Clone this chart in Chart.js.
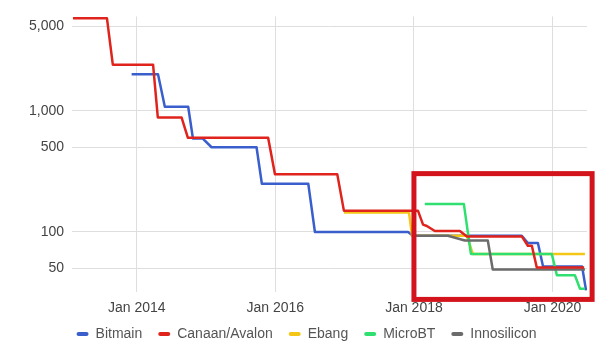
<!DOCTYPE html>
<html>
<head>
<meta charset="utf-8">
<script src="https://cdn.jsdelivr.net/npm/chart.js@4.4.1/dist/chart.umd.min.js"></script>
<style>
  html, body { margin: 0; padding: 0; background: #fff; }
  #wrap { width: 613px; height: 361px; }
</style>
</head>
<body>
<div id="wrap"><canvas id="chart"></canvas></div>
<script>
// Miner efficiency (J/TH) per manufacturer, step points
const bitmain = [
  ['2013-12-05', 2000], ['2014-04-23', 2000], ['2014-05-29', 1080], ['2014-09-29', 1080],
  ['2014-10-24', 590], ['2014-12-15', 590], ['2015-01-30', 500], ['2015-09-24', 500],
  ['2015-10-22', 250], ['2016-06-23', 250], ['2016-07-28', 100], ['2017-12-01', 100],
  ['2017-12-27', 93], ['2019-07-23', 93], ['2019-08-24', 81], ['2019-10-16', 81],
  ['2019-11-12', 52], ['2020-06-05', 52], ['2020-06-26', 33]
];
const canaan = [
  ['2013-01-30', 5800], ['2013-07-28', 5800], ['2013-08-28', 2400], ['2014-03-28', 2400],
  ['2014-04-22', 880], ['2014-08-25', 880], ['2014-09-27', 600], ['2015-11-24', 600],
  ['2015-12-30', 300], ['2016-11-23', 300], ['2016-12-28', 150], ['2018-01-22', 150],
  ['2018-02-18', 115], ['2018-03-10', 112], ['2018-04-21', 102], ['2018-08-31', 102],
  ['2018-10-07', 92], ['2019-07-23', 92], ['2019-08-24', 77], ['2019-09-14', 77],
  ['2019-10-10', 51], ['2020-06-16', 51]
];
const ebang = [
  ['2016-12-28', 145], ['2017-12-06', 145], ['2017-12-22', 93], ['2018-10-07', 93],
  ['2018-11-07', 66], ['2020-06-20', 66]
];
const microbt = [
  ['2018-02-27', 170], ['2018-09-21', 170], ['2018-10-28', 66], ['2019-12-28', 66],
  ['2020-01-24', 44], ['2020-04-28', 44], ['2020-05-25', 34], ['2020-06-20', 34]
];
const innosilicon = [
  ['2017-12-27', 93], ['2018-06-29', 93], ['2018-09-26', 85], ['2019-01-25', 85],
  ['2019-02-20', 49], ['2020-06-20', 49]
];

const seriesNames = ['Bitmain', 'Canaan/Avalon', 'Ebang', 'MicroBT', 'Innosilicon'];
const seriesData = [bitmain, canaan, ebang, microbt, innosilicon];
const seriesColors = ['#3a5fcd', '#e0231c', '#f4c616', '#2fe070', '#6b6b6b'];
const drawOrder = [5, 1, 4, 3, 2]; // higher = drawn underneath

const xTickYears = [2014, 2016, 2018, 2020];
const yTicks = [50, 100, 500, 1000, 5000];

// highlighted region (red frame)
const focusBox = { from: '2018-01-01', to: '2020-07-28', top: 303, bottom: 27.8 };

function toYear(s) {
  const d = Date.parse(s + 'T00:00:00Z');
  const y = new Date(d).getUTCFullYear();
  const start = Date.UTC(y, 0, 1), end = Date.UTC(y + 1, 0, 1);
  return y + (d - start) / (end - start);
}

const focusBoxPlugin = {
  id: 'focusBox',
  afterDraw(chart) {
    const { ctx, scales: { x, y } } = chart;
    const left = x.getPixelForValue(toYear(focusBox.from));
    const right = x.getPixelForValue(toYear(focusBox.to));
    const top = y.getPixelForValue(focusBox.top);
    const bottom = y.getPixelForValue(focusBox.bottom);
    ctx.save();
    ctx.strokeStyle = '#d3141c';
    ctx.lineWidth = 5;
    ctx.strokeRect(left, top, right - left, bottom - top);
    ctx.restore();
  }
};

// pull the legend row up a little, closer to the tick labels
const legendNudge = {
  id: 'legendNudge',
  afterLayout(chart) {
    chart.legend.top -= 3;
    chart.legend.bottom -= 3;
  }
};

const datasets = seriesNames.map((name, i) => ({
  label: name,
  data: seriesData[i].map(([d, v]) => ({ x: toYear(d), y: v })),
  borderColor: seriesColors[i],
  backgroundColor: seriesColors[i],
  borderWidth: 2.5,
  pointRadius: 0,
  tension: 0,
  borderJoinStyle: 'round',
  order: drawOrder[i]
}));

const font = { family: '"Liberation Sans", Arial, sans-serif', size: 14 };

new Chart(document.getElementById('chart'), {
  type: 'line',
  data: { datasets },
  plugins: [focusBoxPlugin, legendNudge],
  options: {
    responsive: true,
    maintainAspectRatio: false,
    animation: false,
    layout: { padding: { top: 16, right: 0, bottom: 7, left: 0 } },
    plugins: {
      tooltip: { enabled: false },
      legend: {
        position: 'bottom',
        labels: {
          font,
          color: '#555',
          boxWidth: 12,
          boxHeight: 4,
          padding: 16,
          generateLabels(chart) {
            return chart.data.datasets.map((ds, i) => ({
              text: ds.label,
              fillStyle: ds.borderColor,
              strokeStyle: ds.borderColor,
              lineWidth: 0,
              borderRadius: 2,
              fontColor: '#555',
              datasetIndex: i
            }));
          }
        }
      }
    },
    scales: {
      x: {
        type: 'linear',
        min: toYear('2013-01-25'),
        max: toYear('2020-07-01'),
        afterBuildTicks(scale) { scale.ticks = xTickYears.map(v => ({ value: v })); },
        afterFit(scale) { scale.height = 22; },
        ticks: { font, color: '#444', padding: 8, maxRotation: 0, callback: v => 'Jan ' + v },
        grid: { color: '#dedede', drawTicks: false },
        border: { display: false }
      },
      y: {
        type: 'logarithmic',
        min: 32,
        max: 6000,
        afterBuildTicks(scale) { scale.ticks = yTicks.map(v => ({ value: v })); },
        afterFit(scale) { scale.width = 72; },
        ticks: { font, color: '#444', padding: 8, callback: v => v.toLocaleString('en-US') },
        grid: { color: '#dedede', drawTicks: false },
        border: { display: false }
      },
      // empty spacer on the right so the plot ends where the reference does
      spacer: {
        type: 'linear',
        position: 'right',
        afterFit(scale) { scale.width = 26; },
        ticks: { display: false },
        grid: { display: false },
        border: { display: false }
      }
    }
  }
});
</script>
</body>
</html>
